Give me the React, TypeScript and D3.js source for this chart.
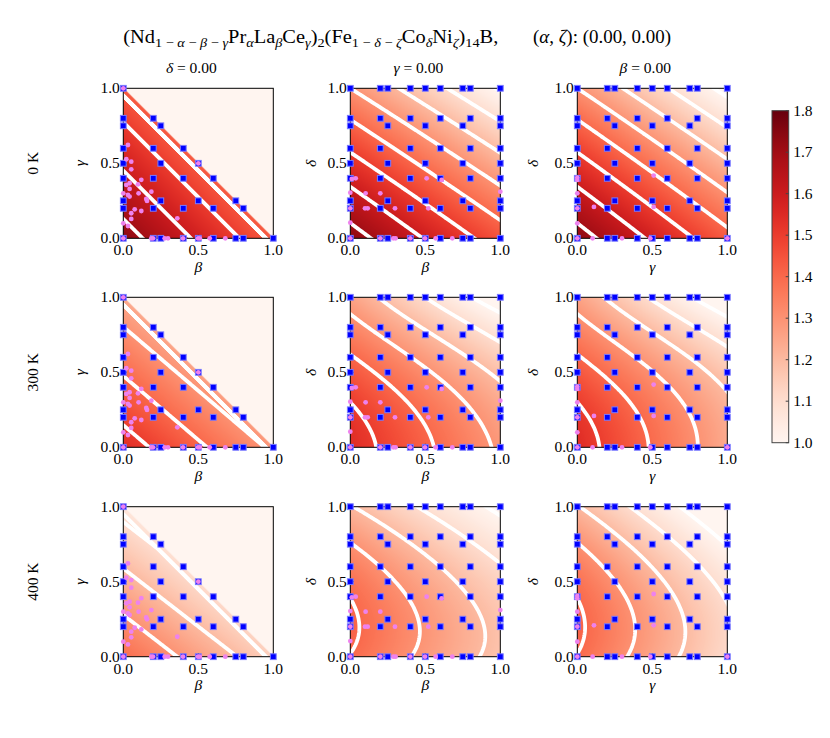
import React, { useMemo } from "react";
import * as d3 from "d3";

// ---- values ----
const temperatures = ["0 K", "300 K", "400 K"];
const fixedNames = ["δ", "γ", "β"];
const fixedValue = "0.00";
const xAxisNames = ["β", "β", "γ"];
const yAxisNames = ["γ", "δ", "δ"];
const axisTicks = [0, 0.5, 1];
const colorbarTicks = [1.0, 1.1, 1.2, 1.3, 1.4, 1.5, 1.6, 1.7, 1.8];
const contourLevels = [1.0, 1.1, 1.2, 1.3, 1.4, 1.5, 1.6, 1.7];
const colorRange = [1.0, 1.8];

// surfaces fitted by eye to the colours and white contour lines
// each term is [coefficient, power of x, power of y]
const surface0K_LaCe = [[1.74, 0, 0], [-0.31, 1, 0], [-0.31, 0, 1]];
const surface0K_LaCo = [[1.74, 0, 0], [-0.29, 1, 0], [-0.39, 0, 1], [-0.05, 0, 2], [-0.02, 1, 1]];
const surface0K_CeCo = [[1.74, 0, 0], [-0.31, 1, 0], [-0.39, 0, 1], [-0.05, 0, 2], [-0.02, 1, 1]];

const surface300K_LaCe = [[1.545, 0, 0], [-0.26, 1, 0], [-0.305, 0, 1]];
const surface300K_LaCo = [
  [1.545, 0, 0], [-0.26, 1, 0], [-0.0374, 0, 1], [-0.43, 0, 2], [0.182, 0, 3],
  [-0.0354, 1, 1], [0.1564, 1, 2], [-0.182, 1, 3],
];
const surface300K_CeCo = [
  [1.545, 0, 0], [-0.305, 1, 0], [-0.0374, 0, 1], [-0.43, 0, 2], [0.182, 0, 3],
  [0.0536, 1, 1], [0.094, 1, 2], [-0.182, 1, 3],
];

const surface400K_LaCe = [[1.39, 0, 0], [-0.25, 1, 0], [-0.323, 0, 1]];
const surface400K_LaCo = [
  [1.3962, 0, 0], [0.2017, 0, 1], [-0.5554, 0, 2], [0.1625, 0, 3],
  [-0.245, 1, 0], [0.02, 2, 0], [-0.09, 1, 1], [0.09, 1, 2],
];
const surface400K_CeCo = [
  [1.3962, 0, 0], [0.2017, 0, 1], [-0.5554, 0, 2], [0.1625, 0, 3],
  [-0.29, 1, 0], [-0.06, 1, 1], [0.05, 1, 2],
];

const surfaces = [
  [surface0K_LaCe, surface0K_LaCo, surface0K_CeCo],
  [surface300K_LaCe, surface300K_LaCo, surface300K_CeCo],
  [surface400K_LaCe, surface400K_LaCo, surface400K_CeCo],
];

// computed compositions (blue squares)
const gridFifths = [0, 0.2, 0.4, 0.6, 0.8, 1];
const gridQuarters = [0, 0.25, 0.5, 0.75, 1];
const edgeSteps = [0, 0.2, 0.25, 0.4, 0.5, 0.6, 0.75, 0.8, 1];

// experimental compositions (violet dots)
const violetLaCe = [
  [0, 1], [0.031, 0.622], [0.02, 0.527], [0.053, 0.511], [0.053, 0.46], [0.12, 0.39],
  [0.042, 0.367], [0.02, 0.356], [0.098, 0.36], [0.042, 0.329], [0.187, 0.311], [0, 0.3],
  [0.102, 0.3], [0.031, 0.289], [0.042, 0.278], [0.153, 0.262], [0.158, 0.249], [0.076, 0.193],
  [0.12, 0.182], [0.053, 0.167], [0.053, 0.129], [0.36, 0.133], [0, 0.1], [0.031, 0.082],
  [0.5, 0.5], [0, 0], [0.187, 0], [0.198, 0], [0.276, 0], [0.298, 0], [0.398, 0], [0.498, 0],
  [0.51, 0], [0.576, 0], [0.68, 0],
];
const violetLaCo = [
  [0.01, 0.396], [0.036, 0.4], [0.509, 0.4], [0.609, 0.389], [0, 0.304], [0.102, 0.3],
  [0.2, 0.3], [1.0, 0.311], [0, 0.2], [0.098, 0.2], [0.116, 0.2], [0.298, 0.2], [0.52, 0.2],
  [0, 0.104], [0, 0], [0.2, 0], [0.287, 0], [0.302, 0], [0.4, 0], [0.498, 0], [0.569, 0], [0.68, 0],
];
const violetCeCo = [
  [0, 0.405], [0, 0.389], [0, 0.3], [0.509, 0.418], [0.111, 0.209], [0.509, 0.209], [0, 0.2],
  [0, 0.1], [0, 0], [0.102, 0], [0.298, 0], [0.487, 0], [1.0, 0],
];
const violetSets = [violetLaCe, violetLaCo, violetCeCo];

// ---- layout ----
const SIZE = 150;
const panelLeft = [123.3, 350.3, 577.3];
const panelTop = [88.3, 297.3, 506.7];
const yLabelX = [85, 316, 538.5];
const cb = { x: 772, y: 110.7, w: 16.7, h: 332 };
const FONT = "'Liberation Serif', 'DejaVu Serif', serif";
const FS = 15.5;
const PAD = 0.1;
const STEP = 0.01;
const GRID_N = Math.round((1 + 2 * PAD) / STEP) + 1;
const EDGE_INSET = 0.045;

const lut = d3.range(256).map((i) => d3.rgb(d3.interpolateReds(i / 255)));
const colorIndex = (v: number) => {
  const t = Math.max(0, Math.min(1, (v - colorRange[0]) / (colorRange[1] - colorRange[0])));
  return Math.round(t * 255);
};

function evalSurface(terms: number[][], x: number, y: number) {
  let v = 0;
  for (const [c, px, py] of terms) v += c * Math.pow(x, px) * Math.pow(y, py);
  return v;
}

function surfaceImage(terms: number[][], triangle: boolean) {
  const canvas = document.createElement("canvas");
  canvas.width = SIZE;
  canvas.height = SIZE;
  const ctx = canvas.getContext("2d")!;
  const img = ctx.createImageData(SIZE, SIZE);
  for (let j = 0; j < SIZE; j++) {
    for (let i = 0; i < SIZE; i++) {
      const x = (i + 0.5) / SIZE;
      const y = 1 - (j + 0.5) / SIZE;
      const v = triangle && x + y > 1 ? colorRange[0] : evalSurface(terms, x, y);
      const c = lut[colorIndex(v)];
      const k = (j * SIZE + i) * 4;
      img.data[k] = c.r;
      img.data[k + 1] = c.g;
      img.data[k + 2] = c.b;
      img.data[k + 3] = 255;
    }
  }
  ctx.putImageData(img, 0, 0);
  return canvas.toDataURL();
}

function contourPaths(terms: number[][], triangle: boolean, xs: any, ys: any) {
  const n = GRID_N;
  const values: number[] = new Array(n * n);
  for (let j = 0; j < n; j++) {
    for (let i = 0; i < n; i++) {
      const x = -PAD + i * STEP;
      const y = -PAD + j * STEP;
      let v = evalSurface(terms, x, y);
      if (triangle && x + y > 1 - EDGE_INSET) v = -1;
      values[j * n + i] = v;
    }
  }
  const path = d3.geoPath(
    d3.geoTransform({
      point: function (u: number, w: number) {
        (this as any).stream.point(xs(-PAD + (u - 0.5) * STEP), ys(-PAD + (w - 0.5) * STEP));
      },
    })
  );
  return d3.contours().size([n, n]).thresholds(contourLevels)(values).map((g) => path(g as any) || "");
}

function squareCompositions(triangle: boolean) {
  const seen = new Set<string>();
  const out: number[][] = [];
  const add = (x: number, y: number) => {
    if (triangle && x + y > 1 + 1e-9) return;
    const key = x + "," + y;
    if (seen.has(key)) return;
    seen.add(key);
    out.push([x, y]);
  };
  gridFifths.forEach((x) => gridFifths.forEach((y) => add(x, y)));
  gridQuarters.forEach((x) => gridQuarters.forEach((y) => add(x, y)));
  edgeSteps.forEach((s) => {
    add(0, s);
    add(s, 0);
    add(1, s);
    add(s, 1);
  });
  return out;
}

type Seg = { t: string; sub?: boolean; it?: boolean };

const formulaSegs: Seg[] = [
  { t: "(Nd" }, { t: "1 − ", sub: true }, { t: "α", sub: true, it: true }, { t: " − ", sub: true },
  { t: "β", sub: true, it: true }, { t: " − ", sub: true }, { t: "γ", sub: true, it: true },
  { t: "Pr" }, { t: "α", sub: true, it: true }, { t: "La" }, { t: "β", sub: true, it: true },
  { t: "Ce" }, { t: "γ", sub: true, it: true }, { t: ")" }, { t: "2", sub: true },
  { t: "(Fe" }, { t: "1 − ", sub: true }, { t: "δ", sub: true, it: true }, { t: " − ", sub: true },
  { t: "ζ", sub: true, it: true }, { t: "Co" }, { t: "δ", sub: true, it: true }, { t: "Ni" },
  { t: "ζ", sub: true, it: true }, { t: ")" }, { t: "14", sub: true }, { t: "B," },
];
const paramSegs: Seg[] = [
  { t: "(" }, { t: "α", it: true }, { t: ", " }, { t: "ζ", it: true }, { t: "): (0.00, 0.00)" },
];

function richText(segs: Seg[], size: number) {
  let shift = 0;
  return segs.map((s, k) => {
    const target = s.sub ? size * 0.25 : 0;
    const dy = target - shift;
    shift = target;
    return (
      <tspan key={k} dy={dy || undefined} fontSize={s.sub ? size * 0.7 : size} fontStyle={s.it ? "italic" : undefined}>
        {s.t}
      </tspan>
    );
  });
}

export default function App() {
  const panels = useMemo(() => {
    const out: any[] = [];
    surfaces.forEach((row, r) => {
      row.forEach((terms, c) => {
        const triangle = c === 0;
        const xs = d3.scaleLinear().domain([0, 1]).range([panelLeft[c], panelLeft[c] + SIZE]);
        const ys = d3.scaleLinear().domain([0, 1]).range([panelTop[r] + SIZE, panelTop[r]]);
        out.push({
          r, c, xs, ys, triangle,
          image: surfaceImage(terms, triangle),
          lines: contourPaths(terms, triangle, xs, ys),
          squares: squareCompositions(triangle),
        });
      });
    });
    return out;
  }, []);

  const cbScale = d3.scaleLinear().domain(colorRange).range([cb.y + cb.h, cb.y]);
  const cbStops = d3.range(0, 1.0001, 0.05);

  return (
    <svg width={830} height={738} style={{ position: "absolute", left: 0, top: 0, background: "#fff" }} fontFamily={FONT}>
      <defs>
        {panels.map((p) => (
          <clipPath key={p.r + "-" + p.c} id={`clip-${p.r}-${p.c}`}>
            <rect x={panelLeft[p.c]} y={panelTop[p.r]} width={SIZE} height={SIZE} />
          </clipPath>
        ))}
        <linearGradient id="cbGrad" x1="0" y1="1" x2="0" y2="0">
          {cbStops.map((t) => (
            <stop key={t} offset={t} stopColor={d3.interpolateReds(t)} />
          ))}
        </linearGradient>
      </defs>

      {/* main title */}
      <text x={123.3} y={42.5} textLength={375} lengthAdjust="spacingAndGlyphs" style={{ whiteSpace: "pre" }} fill="#000">
        {richText(formulaSegs, 18)}
      </text>
      <text x={533} y={42.5} textLength={138} lengthAdjust="spacingAndGlyphs" style={{ whiteSpace: "pre" }} fill="#000">
        {richText(paramSegs, 18)}
      </text>

      {/* column titles */}
      {fixedNames.map((name, c) => (
        <text key={name} x={panelLeft[c] + SIZE / 2 - 7} y={73} textAnchor="middle" fontSize={FS} style={{ whiteSpace: "pre" }}>
          <tspan fontStyle="italic">{name}</tspan>
          <tspan>{" = " + fixedValue}</tspan>
        </text>
      ))}

      {/* row labels */}
      {temperatures.map((t, r) => {
        const cy = panelTop[r] + SIZE / 2;
        return (
          <text key={t} x={38} y={cy} textAnchor="middle" fontSize={FS} transform={`rotate(-90, 38, ${cy})`}>
            {t}
          </text>
        );
      })}

      {panels.map((p) => {
        const left = panelLeft[p.c];
        const top = panelTop[p.r];
        const bottom = top + SIZE;
        const violet = violetSets[p.c];
        return (
          <g key={p.r + "-" + p.c}>
            <image href={p.image} x={left} y={top} width={SIZE} height={SIZE} preserveAspectRatio="none" />
            <g clipPath={`url(#clip-${p.r}-${p.c})`}>
              {p.lines.map((d: string, k: number) => (
                <path key={k} d={d} fill="none" stroke="#fff" strokeWidth={3.8} strokeLinejoin="round" />
              ))}
            </g>
            <rect x={left} y={top} width={SIZE} height={SIZE} fill="none" stroke="#000" strokeWidth={1} />
            {axisTicks.map((t) => (
              <g key={t}>
                <line x1={p.xs(t)} x2={p.xs(t)} y1={bottom} y2={bottom - 3.5} stroke="#000" strokeWidth={1} />
                <line x1={left} x2={left + 3.5} y1={p.ys(t)} y2={p.ys(t)} stroke="#000" strokeWidth={1} />
                <text x={p.xs(t)} y={bottom + 17} textAnchor="middle" fontSize={FS}>
                  {t.toFixed(1)}
                </text>
                <text x={left - 3.5} y={p.ys(t) + 5} textAnchor="end" fontSize={FS}>
                  {t.toFixed(1)}
                </text>
              </g>
            ))}
            <text x={left + SIZE / 2} y={bottom + 33.5} textAnchor="middle" fontSize={FS} fontStyle="italic">
              {xAxisNames[p.c]}
            </text>
            <text
              x={yLabelX[p.c]}
              y={top + SIZE / 2}
              textAnchor="middle"
              fontSize={FS}
              fontStyle="italic"
              transform={`rotate(-90, ${yLabelX[p.c]}, ${top + SIZE / 2})`}
            >
              {yAxisNames[p.c]}
            </text>
            {p.squares.map(([x, y]: number[], k: number) => (
              <rect
                key={"s" + k}
                x={p.xs(x) - 2.9}
                y={p.ys(y) - 2.9}
                width={5.8}
                height={5.8}
                fill="#0000ff"
                stroke="#7b7bff"
                strokeWidth={1}
              />
            ))}
            {violet.map(([x, y], k) => (
              <circle key={"v" + k} cx={p.xs(x)} cy={p.ys(y)} r={2.4} fill="#ee82ee" />
            ))}
          </g>
        );
      })}

      {/* colour bar */}
      <rect x={cb.x} y={cb.y} width={cb.w} height={cb.h} fill="url(#cbGrad)" stroke="#444" strokeWidth={1} />
      {colorbarTicks.map((t) => (
        <g key={t}>
          <line x1={cb.x + cb.w} x2={cb.x + cb.w - 3} y1={cbScale(t)} y2={cbScale(t)} stroke="#444" strokeWidth={1} />
          <text x={cb.x + cb.w + 4.5} y={cbScale(t) + 5} fontSize={FS}>
            {t.toFixed(1)}
          </text>
        </g>
      ))}
    </svg>
  );
}
